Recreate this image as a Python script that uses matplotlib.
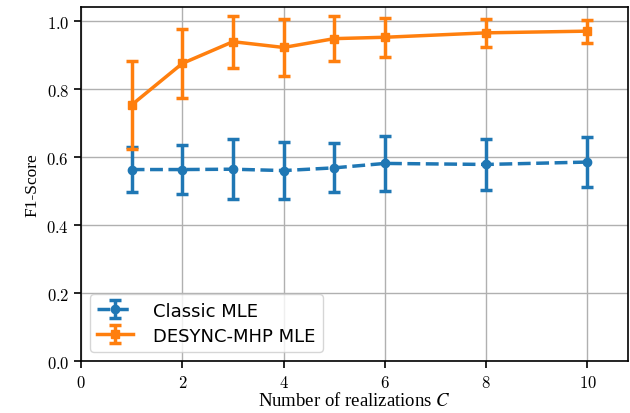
import matplotlib
matplotlib.use("Agg")
import matplotlib.pyplot as plt

# realizations and F1 (mean, std)
realizations = [1, 2, 3, 4, 5, 6, 8, 10]
classic_mean = [0.563, 0.563, 0.564, 0.560, 0.568, 0.581, 0.578, 0.585]
classic_std = [0.067, 0.072, 0.088, 0.084, 0.072, 0.081, 0.074, 0.074]
desync_mean = [0.753, 0.875, 0.939, 0.922, 0.948, 0.952, 0.965, 0.970]
desync_std = [0.129, 0.101, 0.076, 0.084, 0.067, 0.057, 0.041, 0.034]
xticks = [0, 2, 4, 6, 8, 10]
yticks = [0.0, 0.2, 0.4, 0.6, 0.8, 1.0]

fig = plt.figure(figsize=(6.3, 4.14), dpi=100)
ax = fig.add_axes([81 / 630, 52 / 414, 547 / 630, 354 / 414])

ax.errorbar(realizations, classic_mean, yerr=classic_std, color="tab:blue",
            linestyle="--", linewidth=2.5, marker="o", markersize=6,
            capsize=4, capthick=2.5, elinewidth=2.5, label="Classic MLE")
ax.errorbar(realizations, desync_mean, yerr=desync_std, color="tab:orange",
            linestyle="-", linewidth=2.5, marker="s", markersize=6,
            capsize=4, capthick=2.5, elinewidth=2.5, label="DESYNC-MHP MLE")

ax.set_xlim(0, 10.8)
ax.set_ylim(0, 1.041)
ax.set_xticks(xticks)
ax.set_yticks(yticks)
ax.set_xticklabels([f"${v}$" for v in xticks])
ax.set_yticklabels([f"${v:.1f}$" for v in yticks])
for lab in ax.get_xticklabels() + ax.get_yticklabels():
    lab.set_math_fontfamily("cm")
    lab.set_fontsize(12)
ax.tick_params(direction="out", length=5, width=1.2)

ax.set_xlabel("Number of realizations $C$", family="Liberation Serif",
              fontsize=13.5, labelpad=0, math_fontfamily="stix")
ax.set_ylabel("F1-Score", family="Liberation Serif", fontsize=12.5)
ax.grid(True, color="#b0b0b0", linewidth=1.0)
ax.set_axisbelow(True)
for s in ax.spines.values():
    s.set_linewidth(1.2)

ax.legend(loc="lower left", fontsize=13, framealpha=0.8,
          borderaxespad=0.5, handlelength=2.0, handletextpad=1.1,
          labelspacing=0.4)

fig.savefig("out.png", dpi=100)
